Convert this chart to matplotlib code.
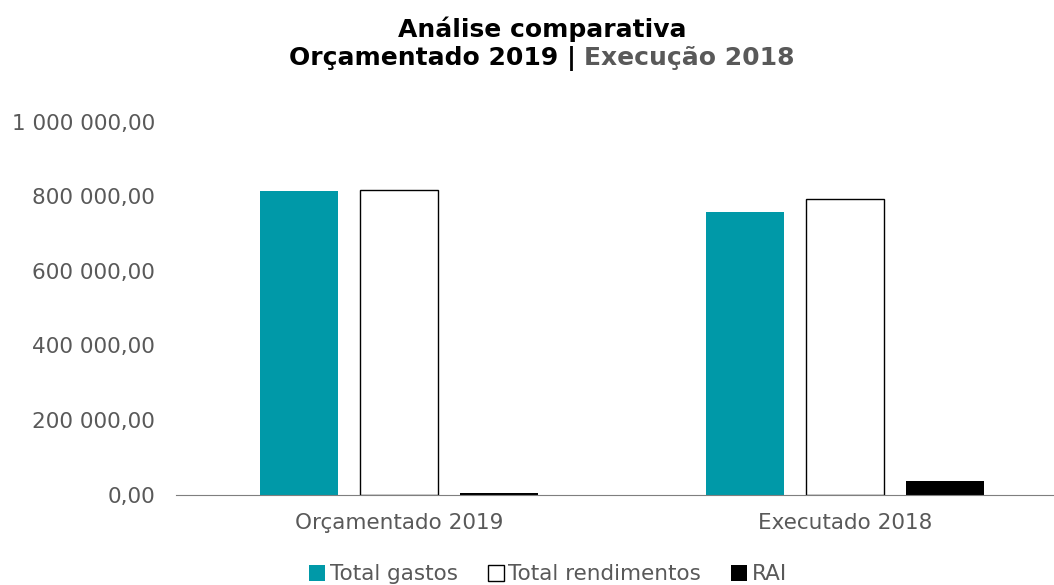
import matplotlib
matplotlib.use('Agg')
import matplotlib.pyplot as plt
import numpy as np

categories = ['Orçamentado 2019', 'Executado 2018']
series_names = ['Total gastos', 'Total rendimentos', 'RAI']
total_gastos = [815000, 757500]
total_rendimentos = [817700, 793500]
rai = [3000, 36300]

teal = '#0099A8'
grey = '#595959'

plt.rcParams['font.family'] = ['DejaVu Sans']

fig = plt.figure(figsize=(10.54, 5.85), dpi=100)
ax = fig.add_axes([0.167, 0.1547, 0.846, 0.637])

x = np.arange(len(categories))
w = 0.175
pitch = 0.224
ax.bar(x - pitch, total_gastos, w, color=teal, label=series_names[0])
ax.bar(x, total_rendimentos, w, color='white', edgecolor='black', linewidth=1, label=series_names[1])
ax.bar(x + pitch, rai, w, color='black', label=series_names[2])

ax.set_xlim(-0.5, 1.5)
ax.set_ylim(0, 1000000)
ax.set_yticks(np.arange(0, 1000001, 200000))
ax.set_yticklabels([f'{v:,.2f}'.replace(',', ' ').replace('.', ',') for v in np.arange(0, 1000001, 200000)])
ax.set_xticks(x)
ax.set_xticklabels(categories)
ax.tick_params(axis='both', length=0, labelsize=15.5, colors=grey)
ax.tick_params(axis='y', pad=15)
ax.tick_params(axis='x', pad=13.5)
for s in ['top', 'right', 'left']:
    ax.spines[s].set_visible(False)
ax.spines['bottom'].set_color('#7f7f7f')

leg = fig.legend(loc='lower center', bbox_to_anchor=(0.52, -0.032), ncol=3, frameon=False,
                 fontsize=15.5, handlelength=0.75, handleheight=0.75, handletextpad=0.2,
                 columnspacing=1.4, labelcolor=grey)

fig.text(0.514, 0.95, 'Análise comparativa', ha='center', va='center',
         fontsize=18, fontweight='bold', color='black')

# second title line in two colours
renderer = fig.canvas.get_renderer()
t1 = fig.text(0, 0.9, 'Orçamentado 2019 | ', fontsize=18, fontweight='bold', color='black', va='center')
t2 = fig.text(0, 0.9, 'Execução 2018', fontsize=18, fontweight='bold', color=grey, va='center')
w1 = t1.get_window_extent(renderer).width / fig.bbox.width
w2 = t2.get_window_extent(renderer).width / fig.bbox.width
start = 0.514 - (w1 + w2) / 2
t1.set_x(start)
t2.set_x(start + w1)

fig.savefig('out.png', dpi=100)
